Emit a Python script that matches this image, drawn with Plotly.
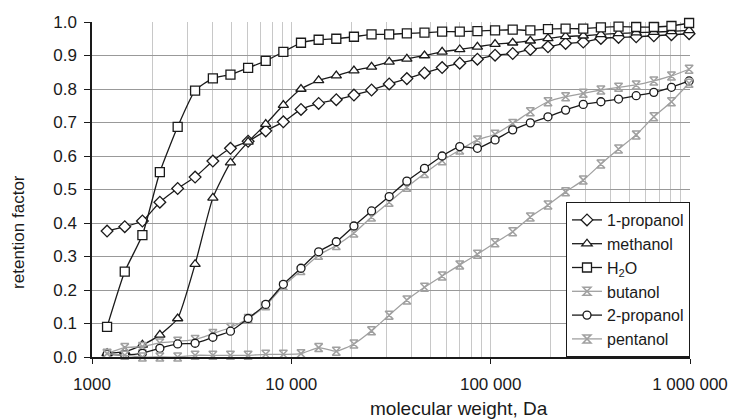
import plotly.graph_objects as go

# Molecular weight of the probe (Da), shared by all solvents
mol_weight = [1190, 1460, 1790, 2190, 2690, 3290, 4040, 4950, 6070, 7440,
              9120, 11180, 13710, 16810, 20610, 25260, 30970, 37980, 46560, 57080,
              69980, 85800, 105200, 128970, 158130, 193870, 237680, 291410, 357270, 438010,
              537030, 658410, 807230, 989690]

propanol_1 = [0.376, 0.389, 0.406, 0.462, 0.503, 0.537, 0.585, 0.623, 0.644, 0.675,
              0.702, 0.739, 0.757, 0.768, 0.782, 0.797, 0.815, 0.831, 0.848, 0.864,
              0.877, 0.889, 0.901, 0.906, 0.918, 0.926, 0.936, 0.940, 0.951, 0.954,
              0.956, 0.959, 0.962, 0.965]

methanol = [0.011, 0.016, 0.036, 0.066, 0.115, 0.277, 0.475, 0.580, 0.642, 0.695,
            0.752, 0.800, 0.826, 0.840, 0.855, 0.866, 0.881, 0.890, 0.900, 0.911,
            0.918, 0.926, 0.934, 0.938, 0.944, 0.951, 0.957, 0.959, 0.963, 0.966,
            0.968, 0.970, 0.972, 0.975]

water = [0.090, 0.255, 0.364, 0.552, 0.687, 0.795, 0.832, 0.843, 0.863, 0.884,
         0.911, 0.938, 0.947, 0.950, 0.956, 0.963, 0.963, 0.966, 0.968, 0.971,
         0.971, 0.973, 0.975, 0.977, 0.975, 0.979, 0.980, 0.980, 0.984, 0.986,
         0.985, 0.985, 0.988, 0.997]

butanol = [0.011, 0.028, 0.031, 0.042, 0.047, 0.052, 0.070, 0.088, 0.115, 0.153,
           0.212, 0.258, 0.304, 0.333, 0.370, 0.418, 0.462, 0.507, 0.548, 0.586,
           0.618, 0.648, 0.665, 0.697, 0.732, 0.762, 0.777, 0.787, 0.797, 0.805,
           0.812, 0.824, 0.839, 0.859]

propanol_2 = [0.008, 0.006, 0.011, 0.026, 0.039, 0.041, 0.059, 0.077, 0.115, 0.157,
              0.217, 0.265, 0.314, 0.344, 0.391, 0.436, 0.479, 0.525, 0.563, 0.600,
              0.628, 0.623, 0.648, 0.678, 0.699, 0.717, 0.737, 0.754, 0.762, 0.770,
              0.780, 0.790, 0.805, 0.824]

pentanol = [0.010, 0.005, 0.000, 0.000, 0.000, 0.005, 0.005, 0.005, 0.005, 0.008,
            0.008, 0.010, 0.028, 0.017, 0.039, 0.078, 0.125, 0.170, 0.208, 0.242,
            0.275, 0.307, 0.341, 0.374, 0.418, 0.454, 0.493, 0.528, 0.576, 0.621,
            0.663, 0.717, 0.762, 0.817]

x_tick_vals = [1000, 10000, 100000, 1000000]
x_tick_text = ["1000", "10 000", "100 000", "1 000 000"]

FONT = "Liberation Sans, Arial, sans-serif"
BLACK = "#1a1a1a"
GREY = "#a0a0a0"

series = [
    ("1-propanol", propanol_1, "diamond", BLACK, 9),
    ("methanol", methanol, "triangle-up", BLACK, 9),
    ("H<sub>2</sub>O", water, "square", BLACK, 9),
    ("butanol", butanol, "hourglass-open", GREY, 8),
    ("2-propanol", propanol_2, "circle", BLACK, 8),
    ("pentanol", pentanol, "hourglass-open", GREY, 8),
]

fig = go.Figure()
for name, values, symbol, color, size in series:
    if symbol.endswith("-open"):
        marker = dict(symbol=symbol, size=size, color=color, line=dict(color=color, width=1.5))
    else:
        marker = dict(symbol=symbol, size=size, color="white", line=dict(color=color, width=1.3))
    fig.add_trace(go.Scatter(
        x=mol_weight, y=values, name=name, mode="lines+markers",
        line=dict(color=color, width=1.3, shape="spline", smoothing=0.5),
        marker=marker, cliponaxis=False,
    ))

# minor log gridlines at 2..9 of every decade
minor_vals = [m * 10 ** e for e in range(3, 6) for m in range(2, 10)]

fig.update_layout(
    width=730, height=420,
    margin=dict(l=92, r=40, t=22, b=63, autoexpand=False),
    paper_bgcolor="white", plot_bgcolor="white",
    font=dict(family=FONT, color=BLACK, size=17),
    showlegend=True,
    legend=dict(
        x=1.0, y=0, xanchor="right", yanchor="bottom",
        bgcolor="white", bordercolor=BLACK, borderwidth=1,
        font=dict(family=FONT, size=16, color=BLACK),
        itemwidth=30, tracegroupgap=0,
    ),
    xaxis=dict(
        type="log", range=[3, 6],
        tickmode="array", tickvals=x_tick_vals, ticktext=x_tick_text,
        ticks="outside", ticklen=5, tickcolor=BLACK, tickwidth=1,
        showline=True, linecolor=BLACK, linewidth=1.5,
        showgrid=True, gridcolor="#c8c8c8", gridwidth=1,
        minor=dict(tickmode="array", tickvals=minor_vals, showgrid=True,
                   gridcolor="#c8c8c8", gridwidth=1, ticks=""),
        ticklabelstandoff=6,
        zeroline=False,
    ),
    yaxis=dict(
        range=[0, 1.0], dtick=0.1, tickformat=".1f",
        ticks="outside", ticklen=6, tickcolor=BLACK, tickwidth=1,
        showline=True, linecolor=BLACK, linewidth=1.5,
        showgrid=True, gridcolor="#999999", gridwidth=1.2,
        zeroline=False, ticklabelstandoff=4,
    ),
    annotations=[
        dict(text="retention factor", xref="paper", yref="paper",
             x=-0.124, y=0.373, xanchor="center", yanchor="middle",
             textangle=-90, showarrow=False,
             font=dict(family=FONT, size=17, color=BLACK)),
        dict(text="molecular weight, Da", xref="paper", yref="paper",
             x=0.614, y=-0.155, xanchor="center", yanchor="middle",
             showarrow=False,
             font=dict(family=FONT, size=19, color=BLACK)),
    ],
)

fig.write_html("out.html")
